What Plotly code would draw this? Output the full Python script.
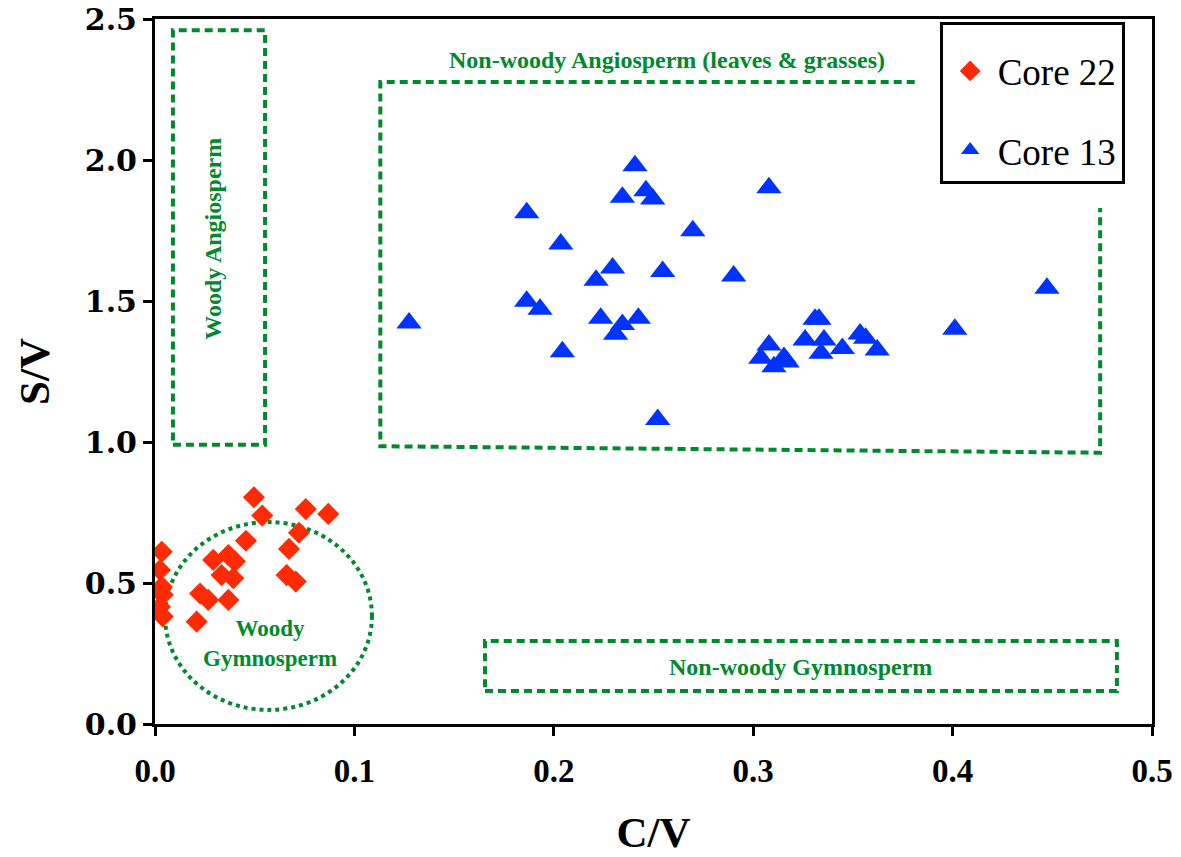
import plotly.graph_objects as go

# Core 22 (diamonds): C/V and S/V ratios
core22_cv = [0.0034, 0.0025, 0.0034, 0.0039, 0.0025, 0.0039,
             0.0292, 0.0368, 0.0401, 0.0334, 0.0393, 0.0368, 0.0226, 0.0267,
             0.0496, 0.0538, 0.0756, 0.0869, 0.0722, 0.0456, 0.0672, 0.0660,
             0.0706, 0.0209]
core22_sv = [0.611, 0.546, 0.487, 0.458, 0.416, 0.381,
             0.582, 0.599, 0.576, 0.528, 0.517, 0.440, 0.463, 0.440,
             0.804, 0.739, 0.762, 0.745, 0.678, 0.650, 0.621, 0.528,
             0.505, 0.363]

# Core 13 (triangles): C/V and S/V ratios
core13_cv = [0.1274, 0.1864, 0.2035, 0.2407, 0.2344, 0.2462, 0.2496, 0.2697,
             0.2295, 0.2212, 0.2546, 0.1864, 0.1931, 0.2235, 0.2344, 0.2424,
             0.2310, 0.2043, 0.2521, 0.3079, 0.2902, 0.4473, 0.4011, 0.3310,
             0.3330, 0.3260, 0.3355, 0.3340, 0.3447, 0.3536, 0.3564, 0.3622,
             0.3079, 0.3038, 0.3104, 0.3154, 0.3170]
core13_sv = [1.422, 1.813, 1.702, 1.980, 1.868, 1.891, 1.862, 1.749,
             1.617, 1.574, 1.605, 1.499, 1.471, 1.439, 1.417, 1.439,
             1.382, 1.320, 1.080, 1.902, 1.589, 1.545, 1.400, 1.435,
             1.435, 1.362, 1.362, 1.315, 1.332, 1.383, 1.368, 1.326,
             1.344, 1.297, 1.267, 1.300, 1.284]

x_ticks = [0.0, 0.1, 0.2, 0.3, 0.4, 0.5]
x_tick_labels = ["0.0", "0.1", "0.2", "0.3", "0.4", "0.5"]
y_ticks = [0.0, 0.5, 1.0, 1.5, 2.0, 2.5]
y_tick_labels = ["0.0", "0.5", "1.0", "1.5", "2.0", "2.5"]

# Source-type regions (C/V, S/V bounds)
woody_angio = dict(x0=0.009, x1=0.0552, y0=0.99, y1=2.46)
nonwoody_angio_path = [(0.381, 2.277), (0.113, 2.277), (0.113, 0.985),
                       (0.474, 0.962), (0.474, 1.83)]
nonwoody_gymno = dict(x0=0.1655, x1=0.4824, y0=0.117, y1=0.294)
woody_gymno = dict(x0=0.005, x1=0.1088, y0=0.05, y1=0.716)

GREEN = "#00892F"
SERIF = "Liberation Serif"

fig = go.Figure()

fig.add_trace(go.Scatter(
    x=core22_cv, y=core22_sv, mode="markers", name="Core 22",
    legendgroup="a",
    marker=dict(symbol="diamond", size=17, color="#FF2B06",
                line=dict(width=0)),
))
fig.add_trace(go.Scatter(
    x=core13_cv, y=core13_sv, mode="markers", name="Core 13",
    legendgroup="b",
    marker=dict(symbol="triangle-up", size=22, color="#0033FF",
                line=dict(width=0)),
))

dash_line = dict(color=GREEN, width=4, dash="8px,5px")

fig.add_shape(type="rect", xref="x", yref="y", layer="below",
              line=dash_line, **woody_angio)
fig.add_shape(type="rect", xref="x", yref="y", layer="below",
              line=dash_line, **nonwoody_gymno)
path = "M " + " L ".join(f"{px},{py}" for px, py in nonwoody_angio_path)
fig.add_shape(type="path", path=path, xref="x", yref="y", layer="below",
              line=dash_line)
fig.add_shape(type="circle", xref="x", yref="y", layer="below",
              line=dict(color=GREEN, width=4, dash="4px,4px"), **woody_gymno)

label_font = dict(family=SERIF, color=GREEN, weight="bold")
fig.add_annotation(x=0.029, y=1.72, xref="x", yref="y", text="Woody Angiosperm",
                   textangle=-90, showarrow=False, font=dict(size=24, **label_font))
fig.add_annotation(x=0.257, y=2.355, xref="x", yref="y",
                   text="Non-woody Angiosperm (leaves &amp; grasses)",
                   showarrow=False, font=dict(size=24, **label_font))
fig.add_annotation(x=0.0577, y=0.287, xref="x", yref="y",
                   text="Woody<br>Gymnosperm",
                   showarrow=False, font=dict(size=23, **label_font))
fig.add_annotation(x=0.3235, y=0.202, xref="x", yref="y",
                   text="Non-woody Gymnosperm",
                   showarrow=False, font=dict(size=24, **label_font))

axis_common = dict(
    showline=True, linecolor="black", linewidth=3, mirror=True,
    ticks="outside", ticklen=9, tickwidth=3, tickcolor="black",
    showgrid=False, zeroline=False, automargin=False,
)

fig.update_layout(
    width=1181, height=857,
    margin=dict(l=155, r=29, t=19, b=133),
    paper_bgcolor="white", plot_bgcolor="white",
    xaxis=dict(range=[0, 0.5], tickvals=x_ticks, ticktext=x_tick_labels,
               ticklabelstandoff=6,
               tickfont=dict(family=SERIF, size=33, color="black", weight="bold"),
               title=dict(text="C/V", standoff=30,
                          font=dict(family=SERIF, size=43, color="black",
                                    weight="bold")),
               **axis_common),
    yaxis=dict(range=[0, 2.5], tickvals=y_ticks, ticktext=y_tick_labels,
               tickfont=dict(family="DejaVu Serif", size=30, color="black",
                             weight="bold"),
               title=dict(text="S/V", standoff=22,
                          font=dict(family=SERIF, size=43, color="black",
                                    weight="bold")),
               **axis_common),
    legend=dict(
        x=0.787, y=0.996, xanchor="left", yanchor="top",
        bgcolor="white", bordercolor="black", borderwidth=3,
        font=dict(family=SERIF, size=37, color="black"),
        title=dict(text=" ", font=dict(size=12)),
        tracegroupgap=28, itemsizing="trace", itemwidth=45,
    ),
    showlegend=True,
)

fig.write_html("out.html")
